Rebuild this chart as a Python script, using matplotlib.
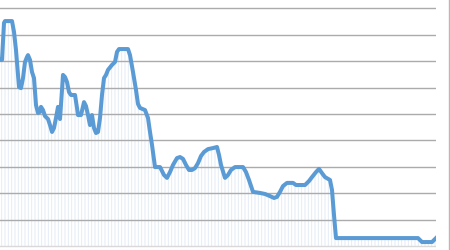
import matplotlib
matplotlib.use("Agg")
import matplotlib.pyplot as plt
from matplotlib.lines import Line2D

# time index (period) and series value
PERIOD = [0, 2, 4, 5, 12, 14, 16, 18, 19, 21, 23, 25, 27, 28, 30, 32, 34, 36,
          38, 40, 41, 43, 45, 48, 50, 52, 54, 56, 58, 59, 60, 62, 63, 65, 67,
          69, 71, 75, 77, 78, 81, 84, 86, 88, 90, 92, 94, 96, 98, 100, 102,
          104, 106, 108, 112, 115, 117, 119, 128, 130, 133, 136, 138, 140,
          145, 148, 150, 152, 155, 160, 164, 167, 170, 173, 177, 180, 183,
          186, 189, 192, 195, 198, 201, 204, 208, 213, 217, 219, 221, 225,
          228, 231, 235, 240, 243, 246, 249, 253, 260, 265, 270, 274, 277,
          280, 283, 287, 293, 296, 300, 305, 309, 312, 316, 319, 322, 325,
          330, 332, 334, 336, 418, 422, 432, 436]
VALUE = [7.05, 7.05, 8.45, 8.52, 8.52, 8.11, 7.42, 6.48, 6.02, 5.98, 6.36,
         6.97, 7.16, 7.23, 7.05, 6.59, 6.36, 5.34, 5.04, 5.08, 5.27, 5.15,
         4.92, 4.81, 4.58, 4.32, 4.47, 4.85, 5.27, 5.08, 4.81, 5.91, 6.48,
         6.40, 6.21, 5.83, 5.72, 5.72, 5.23, 4.96, 4.96, 5.45, 5.30, 4.96,
         4.58, 4.96, 4.47, 4.28, 4.32, 4.85, 5.72, 6.36, 6.48, 6.67, 6.86,
         6.97, 7.35, 7.46, 7.46, 7.23, 6.59, 5.91, 5.38, 5.23, 5.15, 4.85,
         4.32, 3.83, 2.99, 2.99, 2.69, 2.58, 2.80, 3.07, 3.33, 3.37, 3.30,
         3.07, 2.88, 2.88, 2.95, 3.14, 3.41, 3.56, 3.67, 3.71, 3.75, 3.45,
         3.07, 2.58, 2.69, 2.88, 2.99, 2.99, 2.99, 2.80, 2.50, 2.05, 2.01,
         1.97, 1.89, 1.82, 1.86, 2.05, 2.27, 2.39, 2.39, 2.31, 2.31, 2.31,
         2.46, 2.61, 2.80, 2.92, 2.76, 2.61, 2.50, 2.12, 1.17, 0.30, 0.30,
         0.15, 0.15, 0.30]
GRID_LEVELS = [1, 2, 3, 4, 5, 6, 7, 8, 9]

LINE_BLUE = "#5B9BD5"

plt.rcParams["hatch.linewidth"] = 0.7
plt.rcParams["hatch.color"] = "#E4ECF6"

fig = plt.figure(figsize=(4.5, 2.5), dpi=100)
fig.patch.set_facecolor("white")
ax = fig.add_axes([0, 0, 436 / 450, 1])

# faint vertical drop-line texture under the curve
ax.fill_between(PERIOD, VALUE, 0, facecolor="none", hatch="|||||",
                edgecolor="#E4ECF6", linewidth=0, zorder=1)
for g in GRID_LEVELS:
    ax.axhline(g, color="#ABABAB", lw=1.0, zorder=2)
ax.axhline(0, color="#D9D9D9", lw=1.0, zorder=2)
ax.plot(PERIOD, VALUE, color=LINE_BLUE, lw=2.9, solid_joinstyle="round",
        zorder=3)

ax.set_xlim(0, 436)
ax.set_ylim(-4 / 26.4, 246 / 26.4)
ax.axis("off")

# thin frame line at the right edge of the picture
fig.add_artist(Line2D([448.5 / 450] * 2, [0, 1], color="#B8B8B8", lw=1.0))

fig.savefig("out.png", dpi=100)
